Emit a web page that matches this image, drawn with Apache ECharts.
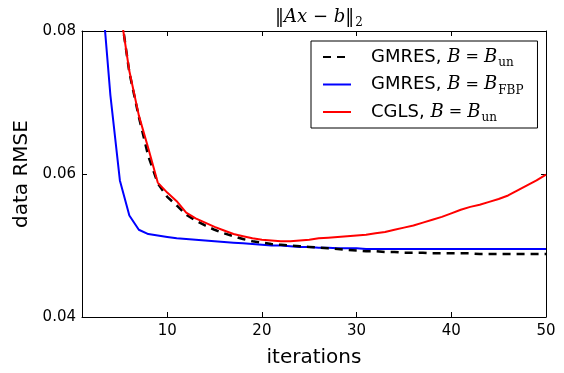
<!DOCTYPE html>
<html>
<head>
<meta charset="utf-8">
<script src="https://cdn.jsdelivr.net/npm/echarts@6/dist/echarts.min.js"></script>
<style>html,body{margin:0;padding:0;background:#fff}#c{width:564px;height:373px}</style>
</head>
<body>
<div id="c"></div>
<script>
const iterations = Array.from({length: 50}, (_, i) => i + 1);
const gmresUn = [0.130,0.110,0.097,0.089,0.0835,0.0742,0.0680,0.0625,0.0587,0.0568,
  0.0556,0.0543,0.0535,0.0528,0.0522,0.0517,0.0513,0.0509,0.0506,0.0504,
  0.0502,0.0501,0.0500,0.0499,0.0498,0.0497,0.0496,0.0495,0.0494,0.0493,
  0.0492,0.0492,0.0491,0.0491,0.0490,0.0490,0.0490,0.0489,0.0489,0.0489,
  0.0489,0.0489,0.0488,0.0488,0.0488,0.0488,0.0488,0.0488,0.0488,0.0488];
const gmresFbp = [0.140,0.110,0.087,0.0710,0.0591,0.0542,0.0522,0.0516,0.0514,0.0512,
  0.0510,0.0509,0.0508,0.0507,0.0506,0.0505,0.0504,0.0503,0.0502,0.0501,
  0.0500,0.0500,0.0499,0.0498,0.0498,0.0497,0.0497,0.0496,0.0496,0.0496,
  0.0495,0.0495,0.0495,0.0495,0.0495,0.0495,0.0495,0.0495,0.0495,0.0495,
  0.0495,0.0495,0.0495,0.0495,0.0495,0.0495,0.0495,0.0495,0.0495,0.0495];
const cglsUn = [0.130,0.110,0.097,0.089,0.0832,0.0744,0.0682,0.0636,0.0588,0.0574,
  0.0562,0.0546,0.0538,0.0532,0.0526,0.0521,0.0516,0.0513,0.0510,0.0508,
  0.0507,0.0506,0.0506,0.0507,0.0508,0.0510,0.0511,0.0512,0.0513,0.0514,
  0.0515,0.0517,0.0519,0.0522,0.0525,0.0528,0.0532,0.0536,0.0540,0.0545,
  0.0550,0.0554,0.0557,0.0561,0.0565,0.0570,0.0577,0.0584,0.0591,0.0599];
const xTicks = [10, 20, 30, 40, 50];
const yTicks = [0.04, 0.06, 0.08];
const seriesNames = ['GMRES, {i|B}{n| = }{i|B}{s|un}', 'GMRES, {i|B}{n| = }{i|B}{s|FBP}', 'CGLS, {i|B}{n| = }{i|B}{s|un}'];

const toPairs = arr => iterations.map((x, i) => [x, arr[i]]);
const chart = echarts.init(document.getElementById('c'), null, {renderer: 'canvas'});
const axisLineStyle = {color: '#000', width: 1};
const sans = 'DejaVu Sans';
const serif = 'DejaVu Serif';
chart.setOption({
  animation: false,
  backgroundColor: '#fff',
  grid: {left: 82, right: 18, top: 31, bottom: 51, containLabel: false},
  title: {
    text: '{n|‖}{i|Ax}{n| − }{i|b}{n|‖}{s|2}',
    left: 314, top: 0, textAlign: 'center',
    textStyle: {
      fontWeight: 'normal',
      rich: {
        n: {fontFamily: serif, fontWeight: 'normal', fontSize: 18, color: '#000'},
        i: {fontFamily: serif, fontWeight: 'normal', fontStyle: 'italic', fontSize: 18, color: '#000'},
        s: {fontFamily: serif, fontWeight: 'normal', fontSize: 12, color: '#000', padding: [12, 0, 0, 1]}
      }
    }
  },
  legend: {
    orient: 'vertical',
    left: 311, top: 41,
    padding: [7, 14, 4, 11],
    itemWidth: 28, itemHeight: 14, itemGap: 6.5,
    borderColor: '#000', borderWidth: 1,
    backgroundColor: '#fff',
    itemStyle: {opacity: 0},
    data: seriesNames,
    formatter: name => name,
    textStyle: {
      fontFamily: sans, fontSize: 18, color: '#000', padding: [0, 0, 0, 15],
      rich: {
        i: {fontFamily: serif, fontStyle: 'italic', fontSize: 18, color: '#000'},
        n: {fontFamily: serif, fontSize: 16, color: '#000'},
        s: {fontFamily: serif, fontSize: 12, color: '#000', padding: [12, 0, 0, 1]}
      }
    }
  },
  xAxis: [{
    type: 'value', min: 1, max: 50, position: 'bottom',
    name: 'iterations', nameLocation: 'middle', nameGap: 31,
    nameTextStyle: {fontFamily: sans, fontSize: 20, color: '#000'},
    axisLine: {lineStyle: axisLineStyle},
    axisTick: {inside: true, length: 5, lineStyle: axisLineStyle, customValues: xTicks},
    axisLabel: {fontFamily: sans, fontSize: 15, color: '#000', margin: 7, customValues: xTicks},
    splitLine: {show: false}
  }, {
    type: 'value', min: 1, max: 50, position: 'top',
    axisLine: {lineStyle: axisLineStyle},
    axisTick: {inside: true, length: 5, lineStyle: axisLineStyle, customValues: xTicks},
    axisLabel: {show: false},
    splitLine: {show: false}
  }],
  yAxis: [{
    type: 'value', min: 0.04, max: 0.08, interval: 0.02, position: 'left',
    name: 'data RMSE', nameLocation: 'middle', nameGap: 43,
    nameTextStyle: {fontFamily: sans, fontSize: 20, color: '#000'},
    axisLine: {show: true, lineStyle: axisLineStyle},
    axisTick: {show: true, inside: true, length: 5, lineStyle: axisLineStyle},
    axisLabel: {fontFamily: sans, fontSize: 15, color: '#000', margin: 6, formatter: v => v.toFixed(2)},
    splitLine: {show: false}
  }, {
    type: 'value', min: 0.04, max: 0.08, interval: 0.02, position: 'right',
    axisLine: {show: true, lineStyle: axisLineStyle},
    axisTick: {show: true, inside: true, length: 5, lineStyle: axisLineStyle},
    axisLabel: {show: false},
    splitLine: {show: false}
  }],
  series: [{
    name: seriesNames[0], type: 'line', data: toPairs(gmresUn), symbol: 'none', clip: true, z: 3,
    lineStyle: {color: '#000', width: 2.5, type: [8, 6]}, itemStyle: {color: '#000'}
  }, {
    name: seriesNames[1], type: 'line', data: toPairs(gmresFbp), symbol: 'none', clip: true, z: 2,
    lineStyle: {color: '#0000ff', width: 2}, itemStyle: {color: '#0000ff'}
  }, {
    name: seriesNames[2], type: 'line', data: toPairs(cglsUn), symbol: 'none', clip: true, z: 4,
    lineStyle: {color: '#ff0000', width: 2}, itemStyle: {color: '#ff0000'}
  }]
});
</script>
</body>
</html>
